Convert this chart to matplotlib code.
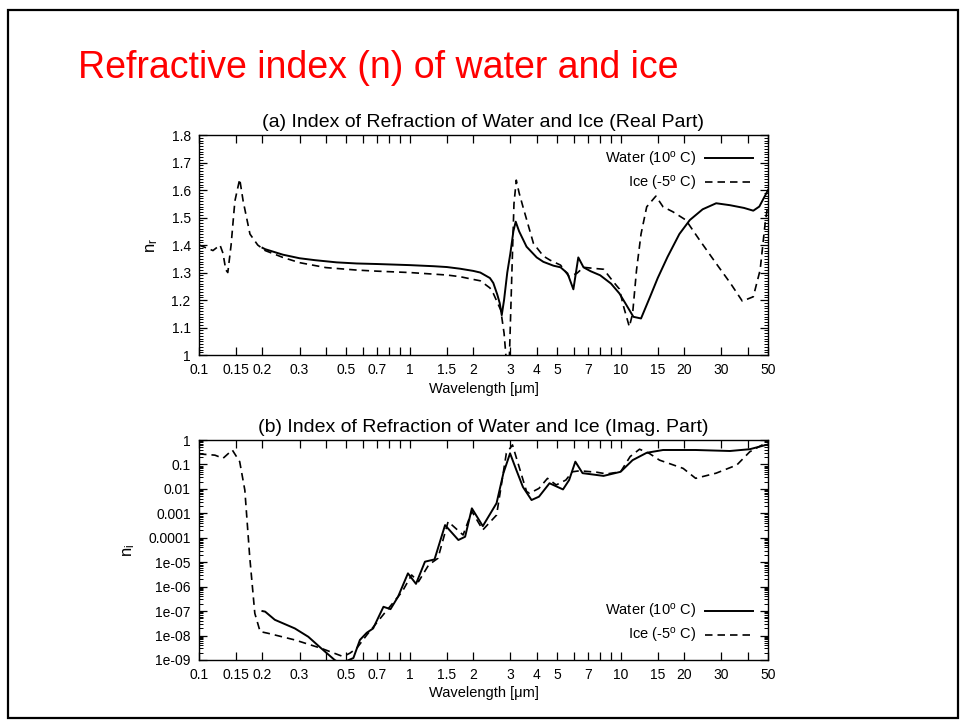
import matplotlib
matplotlib.use("Agg")
import matplotlib.pyplot as plt
from matplotlib.ticker import FixedLocator, FixedFormatter, MultipleLocator, LogLocator, NullFormatter
from matplotlib.patches import Rectangle

plt.rcParams['font.family'] = ['Liberation Sans', 'DejaVu Sans']
plt.rcParams['mathtext.fontset'] = 'custom'
plt.rcParams['mathtext.rm'] = 'Liberation Sans'
plt.rcParams['mathtext.it'] = 'Liberation Sans:italic'

# wavelength tick positions / labels (gnuplot style)
xticks = [0.1, 0.15, 0.2, 0.3, 0.4, 0.5, 0.6, 0.7, 0.8, 0.9, 1, 1.5, 2, 3, 4, 5, 6, 7, 8, 9,
          10, 15, 20, 30, 40, 50]
xlabels = ['0.1', '0.15', '0.2', '0.3', '', '0.5', '', '0.7', '', '', '1', '1.5', '2', '3', '4',
           '5', '', '7', '', '', '10', '15', '20', '30', '', '50']

# real part, water 10 C
wl_wr = [0.2, 0.206, 0.25, 0.3, 0.355, 0.45, 0.56, 0.7, 1.0, 1.3, 1.5, 1.73, 2.0, 2.16, 2.4,
         2.49, 2.6, 2.67, 2.73, 2.8, 2.9, 3.0, 3.1, 3.18, 3.3, 3.58, 4.0, 4.3, 4.8, 5.19, 5.6,
         5.97, 6.3, 6.67, 7.2, 8.0, 9.0, 9.87, 10.5, 11.5, 12.5, 13.8, 15.0, 16.7, 19.0, 21.3,
         24.5, 28.4, 33.0, 38.5, 42.6, 45.5, 49.1, 50.0]
nr_water = [1.39, 1.385, 1.365, 1.352, 1.345, 1.337, 1.333, 1.331, 1.327, 1.323, 1.32, 1.314,
            1.306, 1.30, 1.28, 1.262, 1.22, 1.189, 1.145, 1.2, 1.30, 1.37, 1.45, 1.485, 1.45,
            1.394, 1.355, 1.339, 1.325, 1.319, 1.297, 1.239, 1.355, 1.319, 1.305, 1.29, 1.26,
            1.224, 1.19, 1.139, 1.133, 1.212, 1.28, 1.357, 1.44, 1.491, 1.53, 1.552, 1.545,
            1.535, 1.525, 1.54, 1.588, 1.60]

# real part, ice -5 C
wl_ir = [0.1, 0.108, 0.1165, 0.1258, 0.13, 0.134, 0.137, 0.142, 0.148, 0.156, 0.162, 0.1745,
         0.19, 0.206, 0.25, 0.3, 0.4, 0.56, 0.7, 1.0, 1.5, 1.73, 2.0, 2.16, 2.4, 2.49, 2.7, 2.8,
         2.87, 2.92, 2.97, 3.05, 3.12, 3.2, 3.3, 3.44, 3.86, 4.3, 4.63, 5.19, 5.7, 6.2, 6.67,
         7.5, 8.3, 9.27, 9.87, 10.3, 11.0, 11.4, 11.9, 12.5, 13.3, 14.7, 15.9, 17.7, 20.4,
         23.7, 28.4, 33.2, 37.8, 42.6, 45.9, 48.5, 50.0]
nr_ice = [1.40, 1.39, 1.38, 1.40, 1.37, 1.31, 1.30, 1.40, 1.56, 1.64, 1.56, 1.44, 1.40, 1.38,
          1.355, 1.336, 1.318, 1.309, 1.305, 1.30, 1.291, 1.285, 1.275, 1.27, 1.244, 1.224,
          1.164, 1.08, 0.98, 0.95, 1.0, 1.3, 1.55, 1.636, 1.59, 1.54, 1.406, 1.36, 1.345,
          1.327, 1.285, 1.297, 1.319, 1.315, 1.312, 1.265, 1.24, 1.18, 1.103, 1.15, 1.309,
          1.44, 1.539, 1.578, 1.539, 1.521, 1.491, 1.418, 1.333, 1.261, 1.196, 1.212, 1.309,
          1.479, 1.55]

# imaginary part, water
wl_wi = [0.2, 0.206, 0.229, 0.285, 0.33, 0.38, 0.44, 0.47, 0.5, 0.54, 0.58, 0.625, 0.67, 0.75,
         0.81, 0.88, 0.98, 1.07, 1.18, 1.31, 1.47, 1.70, 1.83, 1.97, 2.22, 2.58, 2.78, 2.99,
         3.2, 3.44, 3.78, 4.1, 4.6, 5.33, 5.7, 6.1, 6.6, 8.3, 10.0, 11.4, 13.3, 15.9, 22.7,
         33.0, 41.0, 49.0, 50.0]
ni_water = [1.0e-7, 9.5e-8, 4.4e-8, 1.95e-8, 8.9e-9, 3.0e-9, 1.0e-9, 7e-10, 9e-10, 1.2e-9,
            6.6e-9, 1.3e-8, 1.95e-8, 1.5e-7, 1.2e-7, 3.9e-7, 3.5e-6, 1.3e-6, 1.05e-5, 1.3e-5,
            3.3e-4, 8.1e-5, 1.1e-4, 1.6e-3, 3.0e-4, 2.6e-3, 4.4e-2, 0.285, 0.06, 1.2e-2,
            3.5e-3, 4.8e-3, 1.7e-2, 9.5e-3, 2.3e-2, 0.13, 0.044, 0.034, 0.05, 0.15, 0.30, 0.39,
            0.39, 0.355, 0.42, 0.63, 0.65]

# imaginary part, ice
wl_ii = [0.1, 0.119, 0.130, 0.1439, 0.156, 0.165, 0.174, 0.184, 0.195, 0.213, 0.285, 0.38,
         0.475, 0.5, 0.52, 0.56, 0.625, 0.78, 0.92, 1.02, 1.1, 1.23, 1.36, 1.52, 1.79, 1.97,
         2.22, 2.58, 2.68, 2.87, 3.07, 3.58, 3.7, 4.1, 4.5, 4.95, 5.5, 5.9, 6.4, 7.7, 8.6,
         10.0, 11.1, 12.3, 13.7, 15.3, 19.8, 22.7, 28.4, 35.6, 41.0, 47.0, 50.0]
ni_ice = [0.27, 0.24, 0.178, 0.39, 0.13, 0.0089, 1.7e-5, 8.1e-8, 1.45e-8, 1.23e-8, 6.6e-9,
          3.0e-9, 1.45e-9, 1.6e-9, 1.9e-9, 3.0e-9, 1.05e-8, 1.1e-7, 6.2e-7, 3.0e-6, 1.6e-6,
          7.8e-6, 1.45e-5, 4.6e-4, 1.3e-4, 1.2e-3, 2.1e-4, 8.5e-4, 6.6e-3, 0.285, 0.63,
          7.8e-3, 6.6e-3, 0.0105, 0.027, 0.0145, 0.023, 0.05, 0.055, 0.048, 0.041, 0.05, 0.21,
          0.42, 0.28, 0.15, 0.069, 0.027, 0.044, 0.095, 0.33, 0.63, 0.8]

nr_ticks = [1.0, 1.1, 1.2, 1.3, 1.4, 1.5, 1.6, 1.7, 1.8]
nr_labels = ['1', '1.1', '1.2', '1.3', '1.4', '1.5', '1.6', '1.7', '1.8']
ni_ticks = [1, 0.1, 0.01, 0.001, 0.0001, 1e-5, 1e-6, 1e-7, 1e-8, 1e-9]
ni_labels = ['1', '0.1', '0.01', '0.001', '0.0001', '1e-05', '1e-06', '1e-07', '1e-08', '1e-09']

lab_water = 'Water (10$^{\\mathrm{o}}$ C)'
lab_ice = 'Ice (-5$^{\\mathrm{o}}$ C)'

fig = plt.figure(figsize=(9.65, 7.25), dpi=100)
fig.patches.append(Rectangle((0.0083, 0.0097), 0.9845, 0.9766, transform=fig.transFigure,
                             fill=False, edgecolor='black', linewidth=1.6))
fig.text(0.0808, 0.893, 'Refractive index (n) of water and ice', color='#ff0000',
         fontsize=27, ha='left', va='baseline')

ax1 = fig.add_axes([0.2062, 0.5103, 0.5896, 0.3034])
ax2 = fig.add_axes([0.2062, 0.0897, 0.5896, 0.3034])

dash = (4.5, 3)
ax1.plot(wl_wr, nr_water, color='black', lw=1.4, label=lab_water)
ax1.plot(wl_ir, nr_ice, color='black', lw=1.2, dashes=dash, label=lab_ice)
ax2.plot(wl_wi, ni_water, color='black', lw=1.4, label=lab_water)
ax2.plot(wl_ii, ni_ice, color='black', lw=1.2, dashes=dash, label=lab_ice)

for ax in (ax1, ax2):
    ax.set_xscale('log')
    ax.set_xlim(0.1, 50)
    ax.xaxis.set_major_locator(FixedLocator(xticks))
    ax.xaxis.set_major_formatter(FixedFormatter(xlabels))
    ax.xaxis.set_minor_locator(FixedLocator([]))
    ax.tick_params(which='both', direction='in', top=True, right=True, labelsize=10)
    ax.tick_params(which='major', length=6, width=0.9, pad=6)
    ax.tick_params(which='minor', length=3, width=0.7)
    ax.set_xlabel('Wavelength [\u03bcm]', fontsize=10.5, labelpad=3)
    for s in ax.spines.values():
        s.set_linewidth(1.0)

ax1.set_ylim(1, 1.8)
ax1.yaxis.set_major_locator(FixedLocator(nr_ticks))
ax1.yaxis.set_major_formatter(FixedFormatter(nr_labels))
ax1.yaxis.set_minor_locator(MultipleLocator(0.01))
ax1.set_ylabel('n$_\\mathrm{r}$', fontsize=12, labelpad=8)
ax1.set_title('(a) Index of Refraction of Water and Ice (Real Part)', fontsize=14, pad=6)
ax1.legend(frameon=False, markerfirst=False, fontsize=10.5, handlelength=3.3,
           handletextpad=0.6, labelspacing=0.35, loc='upper right', borderaxespad=0.6)

ax2.set_yscale('log')
ax2.set_ylim(1e-9, 1)
ax2.yaxis.set_major_locator(FixedLocator(ni_ticks))
ax2.yaxis.set_major_formatter(FixedFormatter(ni_labels))
ax2.yaxis.set_minor_locator(LogLocator(base=10, subs=[2, 3, 4, 5, 6, 7, 8, 9], numticks=20))
ax2.yaxis.set_minor_formatter(NullFormatter())
ax2.set_ylabel('n$_\\mathrm{i}$', fontsize=12, labelpad=8)
ax2.set_title('(b) Index of Refraction of Water and Ice (Imag. Part)', fontsize=14, pad=6)
ax2.legend(frameon=False, markerfirst=False, fontsize=10.5, handlelength=3.3,
           handletextpad=0.6, labelspacing=0.35, loc='lower right', borderaxespad=0.6)

fig.savefig('out.png', dpi=100)
